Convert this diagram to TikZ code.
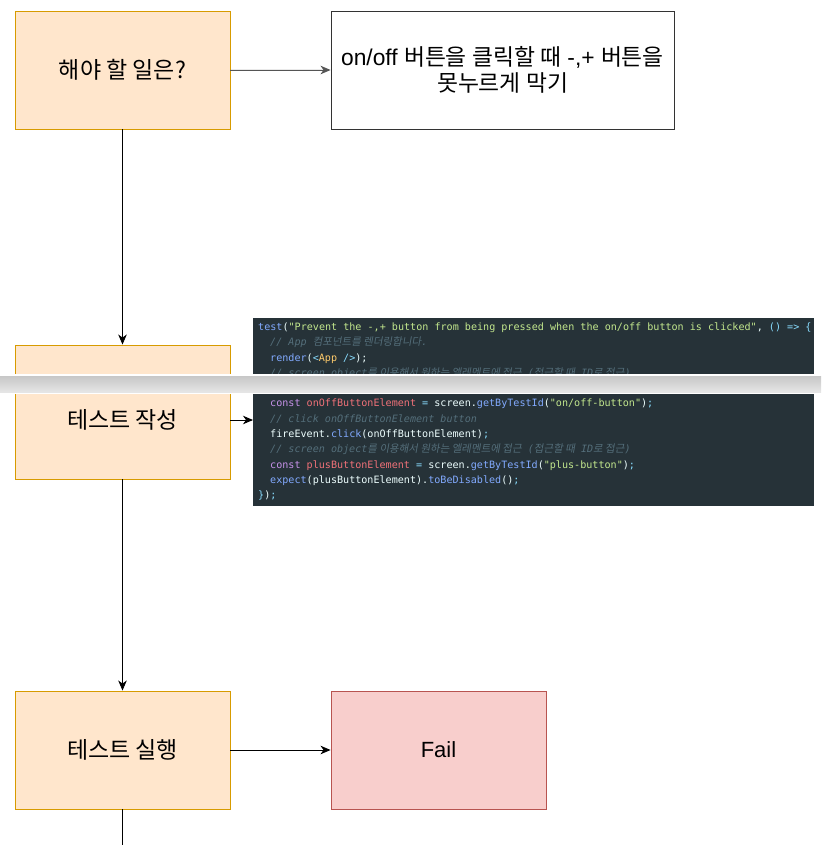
\documentclass[tikz,border=0pt]{standalone}
\usepackage{fontspec}
\setmainfont{Liberation Sans}
\newfontfamily\kr{Noto Sans CJK KR}
\newfontfamily\codefont{DejaVu Sans Mono}
\newfontfamily\krc[FakeSlant=0.18]{Noto Sans CJK KR}
\usetikzlibrary{arrows.meta,positioning}
\definecolor{orFill}{HTML}{FFE6CC}
\definecolor{orLine}{HTML}{D79B00}
\definecolor{rdFill}{HTML}{F8CECC}
\definecolor{rdLine}{HTML}{B85450}
\definecolor{codeBg}{HTML}{263238}
\definecolor{cBlue}{HTML}{82AAFF}
\definecolor{cGreen}{HTML}{C3E88D}
\definecolor{cCom}{HTML}{546E7A}
\definecolor{cPurp}{HTML}{C792EA}
\definecolor{cRed}{HTML}{F07178}
\definecolor{cCyan}{HTML}{89DDFF}
\definecolor{cYel}{HTML}{FFCB6B}
\definecolor{cTxt}{HTML}{EEFFFF}
\definecolor{arrGray}{HTML}{555555}
\newcommand{\cb}[1]{\textcolor{cBlue}{#1}}
\newcommand{\cg}[1]{\textcolor{cGreen}{#1}}
\newcommand{\cp}[1]{\textcolor{cPurp}{#1}}
\newcommand{\cre}[1]{\textcolor{cRed}{#1}}
\newcommand{\cc}[1]{\textcolor{cCyan}{#1}}
\newcommand{\cy}[1]{\textcolor{cYel}{#1}}
\newcommand{\kc}[1]{{\krc\fontsize{10.5}{12}\selectfont #1}}
\newcommand{\cm}[1]{\textcolor{cCom}{\itshape #1}}
\tikzset{
  orbox/.style={draw=orLine, fill=orFill, line width=0.9pt, minimum width=215pt, minimum height=118pt, inner sep=0pt, font=\kr\fontsize{23}{27}\selectfont},
  whbox/.style={draw=black!80, fill=white, line width=0.9pt, minimum width=343pt, minimum height=118pt, inner sep=0pt, align=center, font=\fontsize{22.8}{26.5}\selectfont},
  rdbox/.style={draw=rdLine, fill=rdFill, line width=0.9pt, minimum width=215pt, minimum height=118pt, inner sep=0pt, font=\fontsize{22}{26}\selectfont},
  conn/.style={line width=0.9pt, -{Stealth[length=10pt,width=8.5pt,inset=3pt]}},
  codeline/.style={anchor=base west, inner sep=0pt, text=cTxt, font=\codefont\fontsize{10.1}{12}\selectfont},
  plaintext/.style={inner sep=0pt, font=\kr\fontsize{23}{27}\selectfont},
}
\begin{document}
\begin{tikzpicture}[x=1pt,y=-1pt]
\useasboundingbox (0,0) rectangle (821,845);
\fill[white] (0,0) rectangle (821,845);

% boxes
\node[orbox] (todo) at (122.5,70) {해야 할 일은?};
\node[whbox] (goal) at (502.5,70) {on/off {\kr 버튼을 클릭할 때} -,+ {\kr 버튼을}\\{\kr 못누르게 막기}};
\node[draw=orLine, fill=orFill, line width=0.9pt, minimum width=215pt, minimum height=134pt, inner sep=0pt] (write) at (122.5,412) {};
\node[plaintext] (writet) at (122.5,420) {테스트 작성};
\node[orbox] (run) at (122.5,750) {테스트 실행};
\node[rdbox] (fail) at (438.5,750) {Fail};

% code block
\node[fill=codeBg, minimum width=561pt, minimum height=188pt, inner sep=0pt, anchor=north west] (code) at (253,318) {};
\node[codeline] (c1) at (258,330.5) {\cb{test}(\cg{"Prevent the -,+ button from being pressed when the on/off button is clicked"}, \cc{() => \{}};
\node[codeline] (c2) at (270,345.8) {\cm{// App \kc{컴포넌트를 렌더링합니다}.}};
\node[codeline] (c3) at (270,361.1) {\cb{render}(\cc{<}\cy{App} \cc{/>});};
\node[codeline] (c4) at (270,376.3) {\cm{// screen object\kc{를 이용해서 원하는 엘레멘트에 접근} (\kc{접근할 때} ID\kc{로 접근})}};
\node[codeline] (c5) at (270,391.6) {\cm{// screen object\kc{를 이용해서 원하는 엘레멘트에 접근} (\kc{접근할 때} ID\kc{로 접근})}};
\node[codeline] (c6) at (270,406.9) {\cp{const} \cre{onOffButtonElement} \cc{=} screen.\cb{getByTestId}(\cg{"on/off-button"})\cc{;}};
\node[codeline] (c7) at (270,422.1) {\cm{// click onOffButtonElement button}};
\node[codeline] (c8) at (270,437.4) {fireEvent.\cb{click}(onOffButtonElement)\cc{;}};
\node[codeline] (c9) at (270,452.7) {\cm{// screen object\kc{를 이용해서 원하는 엘레멘트에 접근} (\kc{접근할 때} ID\kc{로 접근})}};
\node[codeline] (c10) at (270,468.0) {\cp{const} \cre{plusButtonElement} \cc{=} screen.\cb{getByTestId}(\cg{"plus-button"})\cc{;}};
\node[codeline] (c11) at (270,483.2) {\cb{expect}(plusButtonElement).\cb{toBeDisabled}()\cc{;}};
\node[codeline] (c12) at (258,498.5) {\cc{\}}){\cc{;}}};

% connectors
\draw[conn, draw=arrGray, fill=arrGray] (todo.east) -- (goal.west);
\draw[conn] (todo.south) -- (write.north);
\draw[conn] (write.east |- writet) -- (code.west |- writet);
\draw[conn] (write.south) -- (run.north);
\draw[conn] (run.east) -- (fail.west);
\coordinate (endp) at (122.5,845);
\draw[line width=0.9pt] (run.south) -- (endp);

% gray bar overlay
\fill[white] (0,374) rectangle (821,394);
\shade[top color=black!22, bottom color=black!10] (0,376) rectangle (821,392);
\end{tikzpicture}
\end{document}
